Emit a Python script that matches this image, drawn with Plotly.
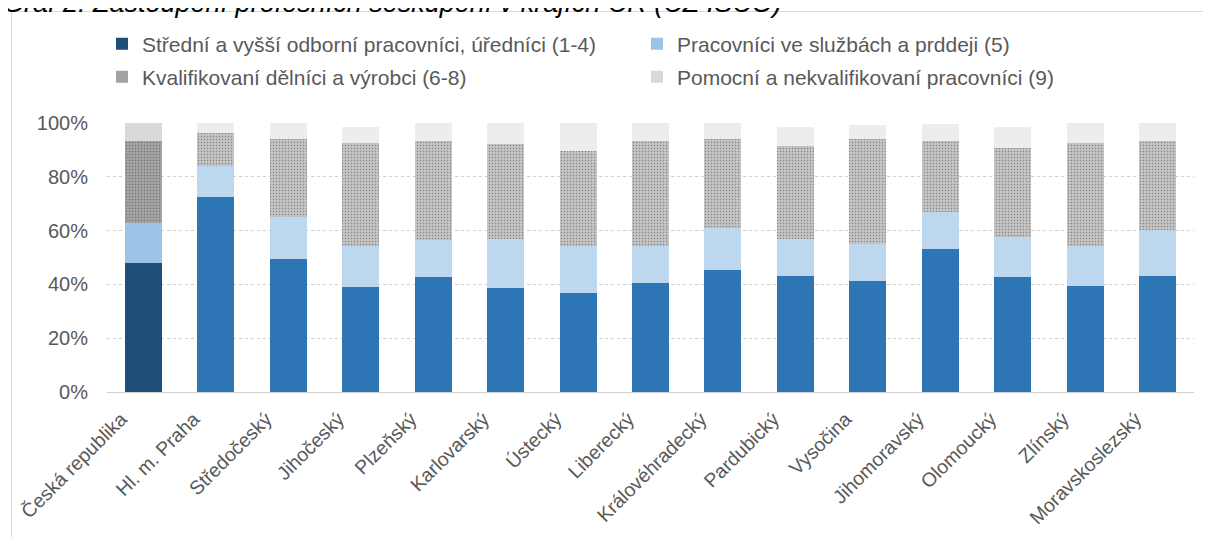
import plotly.graph_objects as go

categories = ["Česká republika", "Hl. m. Praha", "Středočeský", "Jihočeský", "Plzeňský",
              "Karlovarský", "Ústecký", "Liberecký", "Královéhradecký", "Pardubický",
              "Vysočina", "Jihomoravský", "Olomoucký", "Zlínský", "Moravskoslezský"]

series_names = ["Střední a vyšší odborní pracovníci, úředníci (1-4)",
                "Pracovníci ve službách a prddeji (5)",
                "Kvalifikovaní dělníci a výrobci (6-8)",
                "Pomocní a nekvalifikovaní pracovníci (9)"]

odborni = [47.8, 72.4, 49.3, 39.2, 42.6, 38.7, 36.7, 40.6, 45.2, 43.2, 41.3, 53.2, 42.6, 39.3, 43.2]
sluzby = [15.1, 11.7, 15.6, 15.2, 13.8, 18.3, 17.7, 13.8, 15.8, 13.8, 13.7, 13.7, 15.1, 15.1, 17.1]
delnici = [30.5, 12.1, 29.2, 38.3, 37.0, 35.1, 35.1, 39.0, 33.1, 34.4, 39.1, 26.5, 33.0, 38.3, 33.1]
pomocni = [6.6, 3.8, 5.9, 5.9, 6.6, 7.9, 10.5, 6.6, 5.9, 7.1, 5.2, 6.3, 7.8, 7.3, 6.6]

values = [odborni, sluzby, delnici, pomocni]
main_colors = ["#2E75B6", "#BDD7EE", "#C4C4C4", "#EDEDED"]
cr_colors = ["#1F4E79", "#9DC3E6", "#A3A3A3", "#D9D9D9"]
pattern_fg = ["#B6B6B6", "#959595"]

OFF = 8  # page body margin
W, H = 1211 - 2 * OFF, 545 - 2 * OFF
L, T = 99, 115
PW, PH = 1087, 269
R, B = W - L - PW, H - T - PH

def px_x(xs):
    return (xs - OFF - L) / PW

def px_y(ys):
    return (T + PH - (ys - OFF)) / PH

fig = go.Figure()
legend_ids = ["legend", "legend", "legend2", "legend2"]
n = len(categories)
for i, (name, vals) in enumerate(zip(series_names, values)):
    colors = [cr_colors[i]] + [main_colors[i]] * (n - 1)
    marker = dict(color=colors, line=dict(width=0))
    if i == 2:
        marker["pattern"] = dict(shape=".", size=3, solidity=0.2,
                                 fgcolor=[pattern_fg[1]] + [pattern_fg[0]] * (n - 1),
                                 bgcolor=colors)
    fig.add_trace(go.Bar(x=categories, y=vals, name=name, marker=marker,
                         legend=legend_ids[i], showlegend=True))

font_family = "Liberation Sans, Arial, sans-serif"
txt_col = "#595959"
leg_font = dict(size=21, color=txt_col)
frame_col = "#D9D9D9"

fig.update_layout(
    width=W, height=H,
    barmode="stack", bargap=0.49,
    margin=dict(l=L, r=R, t=T, b=B, autoexpand=False),
    paper_bgcolor="white", plot_bgcolor="white",
    font=dict(family=font_family, size=20, color=txt_col),
    showlegend=True,
    legend=dict(orientation="h", x=px_x(102), xanchor="left", y=px_y(44), yanchor="middle",
                entrywidth=490, font=leg_font, bgcolor="rgba(0,0,0,0)",
                traceorder="normal"),
    legend2=dict(orientation="h", x=px_x(102), xanchor="left", y=px_y(77), yanchor="middle",
                 entrywidth=490, font=leg_font, bgcolor="rgba(0,0,0,0)",
                 traceorder="normal"),
    xaxis=dict(type="category", range=[-0.5, n - 0.5], tickangle=-45, showgrid=False,
               showline=False, ticks="", ticklabelshift=-22, ticklabelstandoff=11,
               tickfont=dict(size=19.5, color=txt_col)),
    yaxis=dict(range=[0, 100], dtick=20, ticksuffix="%", showgrid=True,
               gridcolor="#D0D0D0", griddash="dot", gridwidth=1,
               zeroline=True, zerolinecolor="#D0D0D0", zerolinewidth=1,
               ticks="", ticklabelstandoff=18, tickfont=dict(size=20, color=txt_col)),
    shapes=[dict(type="line", xref="paper", yref="paper",
                 x0=px_x(11), x1=px_x(1210), y0=px_y(11.5), y1=px_y(11.5),
                 line=dict(color=frame_col, width=1), layer="below"),
            dict(type="line", xref="paper", yref="paper",
                 x0=px_x(11.5), x1=px_x(11.5), y0=px_y(11.5), y1=px_y(544),
                 line=dict(color=frame_col, width=1), layer="below")],
    annotations=[dict(text="<i>Graf 2: Zastoupení profesních seskupení v krajích ČR (CZ ISCO)</i>",
                      xref="paper", yref="paper", x=px_x(1), xanchor="left",
                      y=px_y(20.5), yanchor="bottom", showarrow=False,
                      font=dict(size=27, color="#000000", family=font_family))],
)

fig.write_html("out.html")
